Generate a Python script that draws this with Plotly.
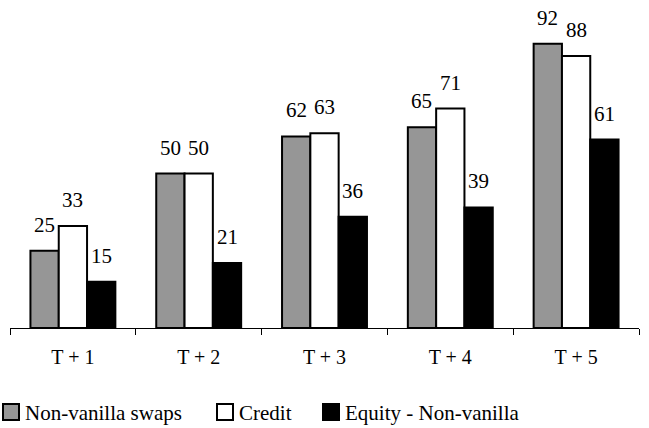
import plotly.graph_objects as go

# Chart data
periods = ["T + 1", "T + 2", "T + 3", "T + 4", "T + 5"]
non_vanilla_swaps = [25, 50, 62, 65, 92]
credit = [33, 50, 63, 71, 88]
equity_non_vanilla = [15, 21, 36, 39, 61]

series_names = ["Non-vanilla swaps", "Credit", "Equity - Non-vanilla"]
series_colors = ["#969696", "#ffffff", "#000000"]
series_values = [non_vanilla_swaps, credit, equity_non_vanilla]

W, H = 649, 428
ML, MR, MT, MB = 10, 10, 19, 100
FONT = "Liberation Serif"
BARGAP = 0.325

fig = go.Figure()
for name, vals, col in zip(series_names, series_values, series_colors):
    fig.add_trace(go.Bar(
        x=periods, y=vals, name=name,
        marker=dict(color=col, line=dict(color="#000000", width=2)),
        cliponaxis=False, showlegend=False,
    ))

annotations, shapes = [], []

# Value labels sit a little above each bar, centred on it
n = len(series_values)
bw = (1 - BARGAP) / n
for k, vals in enumerate(series_values):
    off = (k - (n - 1) / 2) * bw
    for i, v in enumerate(vals):
        annotations.append(dict(x=i + off, y=v, xref="x", yref="y",
                                text=str(v), showarrow=False,
                                xanchor="center", yanchor="bottom", yshift=12,
                                font=dict(family=FONT, size=21, color="#000000")))

# Pixel -> paper coordinate helpers for the custom legend
pw, ph = W - ML - MR, H - MT - MB
def px(x):
    return (x - ML) / pw
def py(y):
    return (H - MB - y) / ph

legend_x = [3, 217, 323]
sq = 16
ly = 404
for x0, name, col in zip(legend_x, series_names, series_colors):
    shapes.append(dict(type="rect", xref="paper", yref="paper",
                       x0=px(x0), x1=px(x0 + sq), y0=py(ly), y1=py(ly + sq),
                       fillcolor=col, line=dict(color="#000000", width=2)))
    annotations.append(dict(xref="paper", yref="paper", x=px(x0 + sq + 4),
                            y=py(ly + sq / 2 + 1), xanchor="left", yanchor="middle",
                            text=name, showarrow=False,
                            font=dict(family=FONT, size=21, color="#000000")))

fig.update_layout(
    width=W, height=H,
    margin=dict(l=ML, r=MR, t=MT, b=MB),
    paper_bgcolor="#ffffff", plot_bgcolor="#ffffff",
    barmode="group", bargap=BARGAP, bargroupgap=0,
    font=dict(family=FONT, size=20, color="#000000"),
    xaxis=dict(showline=True, linecolor="#000000", linewidth=1,
               ticks="outside", tickson="boundaries", ticklen=6,
               tickcolor="#000000", tickwidth=1, showgrid=False,
               ticklabelstandoff=11,
               tickfont=dict(family=FONT, size=20, color="#000000")),
    yaxis=dict(range=[0, 100], visible=False, showgrid=False, zeroline=False),
    shapes=shapes, annotations=annotations,
)

fig.write_html("out.html")
